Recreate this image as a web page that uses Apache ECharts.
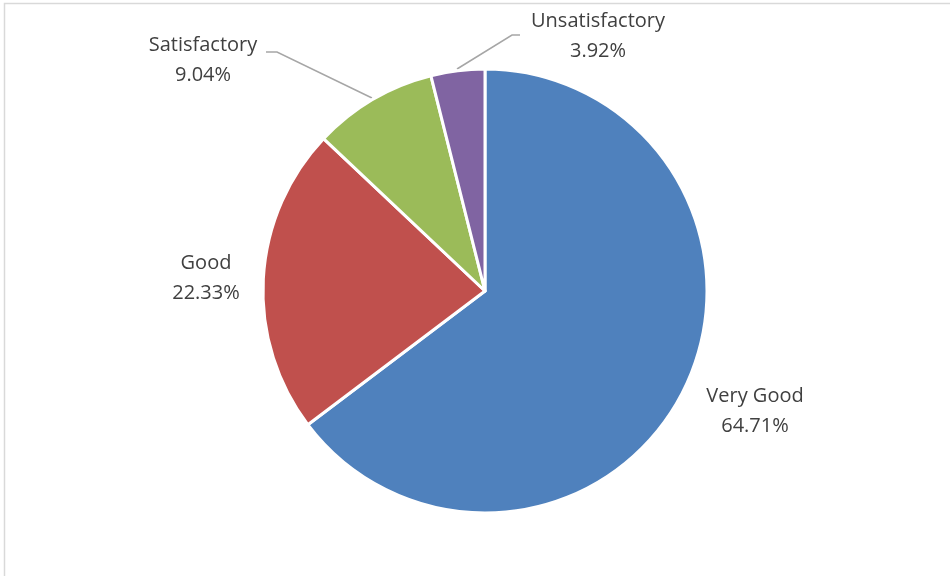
<!DOCTYPE html>
<html>
<head>
<meta charset="utf-8">
<script src="https://cdn.jsdelivr.net/npm/echarts@6/dist/echarts.min.js"></script>
<style>html,body{margin:0;padding:0;background:#fff;}#c{width:950px;height:576px;}</style>
</head>
<body>
<div id="c"></div>
<script>
var categories = ['Very Good', 'Good', 'Satisfactory', 'Unsatisfactory'];
var values = [64.71, 22.33, 9.04, 3.92];
var colors = ['#4F81BD', '#C0504D', '#9BBB59', '#8064A2'];

// label placement (layout only)
var labelPos = [[755, 411], [206, 278], [203, 60], [598, 36]];
var leaderLines = [null, null,
  [[372, 98], [277, 52], [266, 52]],
  [[457, 69], [512, 35], [520, 35]]];

var chart = echarts.init(document.getElementById('c'), null, {renderer: 'canvas'});
chart.setOption({
  animation: false,
  backgroundColor: '#fff',
  graphic: [{
    type: 'rect', silent: true, z: -1,
    shape: {x: 4.5, y: 3.5, width: 1000, height: 1000},
    style: {fill: 'none', stroke: '#d9d9d9', lineWidth: 1.5}
  }],
  series: [{
    type: 'pie',
    center: [485, 291],
    radius: 222,
    startAngle: 90,
    clockwise: true,
    percentPrecision: 2,
    itemStyle: {borderColor: '#fff', borderWidth: 3},
    label: {
      show: true,
      formatter: '{b}\n{d}%',
      fontFamily: 'Open Sans, Liberation Sans, sans-serif',
      fontSize: 20,
      lineHeight: 30,
      color: '#404040'
    },
    labelLine: {show: true, lineStyle: {color: '#a6a6a6', width: 1.5}},
    labelLayout: function (p) {
      var i = p.dataIndex;
      var r = {x: labelPos[i][0], y: labelPos[i][1], align: 'center', verticalAlign: 'middle'};
      if (leaderLines[i]) r.labelLinePoints = leaderLines[i];
      return r;
    },
    data: categories.map(function (n, i) {
      var d = {name: n, value: values[i], itemStyle: {color: colors[i]}};
      if (!leaderLines[i]) d.labelLine = {show: false};
      return d;
    })
  }]
});
</script>
</body>
</html>
